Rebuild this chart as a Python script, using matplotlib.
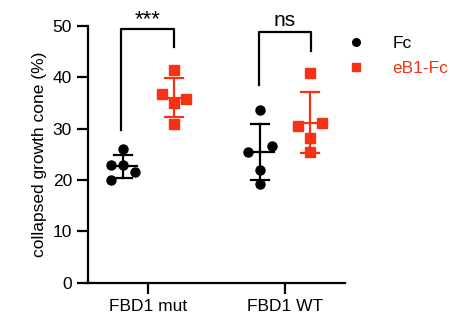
import matplotlib.pyplot as plt
from matplotlib.lines import Line2D
import numpy as np

plt.rcParams['font.family'] = ['Liberation Sans', 'DejaVu Sans']

# data
groups = ['FBD1 mut', 'FBD1 WT']
series = ['Fc', 'eB1-Fc']
fc_mut = [26.1, 23.0, 22.9, 21.5, 20.1]
eb1_mut = [41.5, 36.7, 35.8, 35.0, 30.9]
fc_wt = [33.7, 25.4, 26.6, 21.9, 19.3]
eb1_wt = [40.9, 30.5, 31.1, 28.1, 25.4]
stars = ['***', 'ns']

# horizontal spread column of each point (-1, 0, +1)
cols_fc_mut = [0, -1, 0, 1, -1]
cols_eb1_mut = [0, -1, 1, 0, 0]
cols_fc_wt = [0, -1, 1, 0, 0]
cols_eb1_wt = [0, -1, 1, 0, 0]

black = '#000000'
red = '#F53214'

fig = plt.figure(figsize=(4.53, 3.21), dpi=100)
ax = fig.add_axes([0.1943, 0.1193, 0.5673, 0.7997])

dodge = 0.185
step = 0.088
half_mean = 0.105
half_cap = 0.066

def draw(x0, vals, cols, color, marker, ms):
    vals = np.array(vals)
    xs = x0 + step * np.array(cols)
    ax.plot(xs, vals, ls='none', marker=marker, ms=ms, color=color,
            mec=color, clip_on=False, zorder=3)
    m = vals.mean()
    sd = vals.std(ddof=1)
    ax.plot([x0 - half_mean, x0 + half_mean], [m, m], color=color, lw=1.6, zorder=4)
    ax.plot([x0, x0], [m - sd, m + sd], color=color, lw=1.6, zorder=4)
    for y in (m - sd, m + sd):
        ax.plot([x0 - half_cap, x0 + half_cap], [y, y], color=color, lw=1.6, zorder=4)

draw(0 - dodge, fc_mut, cols_fc_mut, black, 'o', 6.5)
draw(0 + dodge, eb1_mut, cols_eb1_mut, red, 's', 7)
draw(1 - dodge, fc_wt, cols_fc_wt, black, 'o', 6.5)
draw(1 + dodge, eb1_wt, cols_eb1_wt, red, 's', 7)

# significance brackets
def bracket(x1, x2, y1, y2, top, text, size, gap):
    ax.plot([x1, x1, x2, x2], [y1, top, top, y2], color='black', lw=1.6,
            clip_on=False, zorder=2)
    ax.text((x1 + x2) / 2, top + gap, text, ha='center', va='bottom',
            fontsize=size)

bracket(-0.2, 0.19, 29.7, 46.0, 49.5, stars[0], 16, -0.3)
bracket(0.81, 1.19, 38.5, 45.2, 48.8, stars[1], 15, 0.4)

ax.set_xlim(-0.441, 1.439)
ax.set_ylim(0, 50)
ax.set_xticks([0, 1])
ax.set_xticklabels(groups)
ax.set_yticks(range(0, 51, 10))
ax.set_ylabel('collapsed growth cone (%)', fontsize=12.5)
ax.tick_params(labelsize=12.5, width=1.6, length=8, color='black')
ax.tick_params(axis='x', pad=4)
ax.spines['top'].set_visible(False)
ax.spines['right'].set_visible(False)
ax.spines['left'].set_linewidth(1.6)
ax.spines['bottom'].set_linewidth(1.6)

handles = [Line2D([], [], ls='none', marker='o', ms=5.5, color=black),
           Line2D([], [], ls='none', marker='s', ms=5.5, color=red)]
leg = fig.legend(handles, series, loc='upper left', bbox_to_anchor=(0.7466, 0.888),
                 frameon=False, fontsize=12.5, handletextpad=1.12,
                 labelspacing=0.55, borderpad=0, borderaxespad=0)
leg.get_texts()[1].set_color(red)

fig.savefig('out.png', dpi=100)
